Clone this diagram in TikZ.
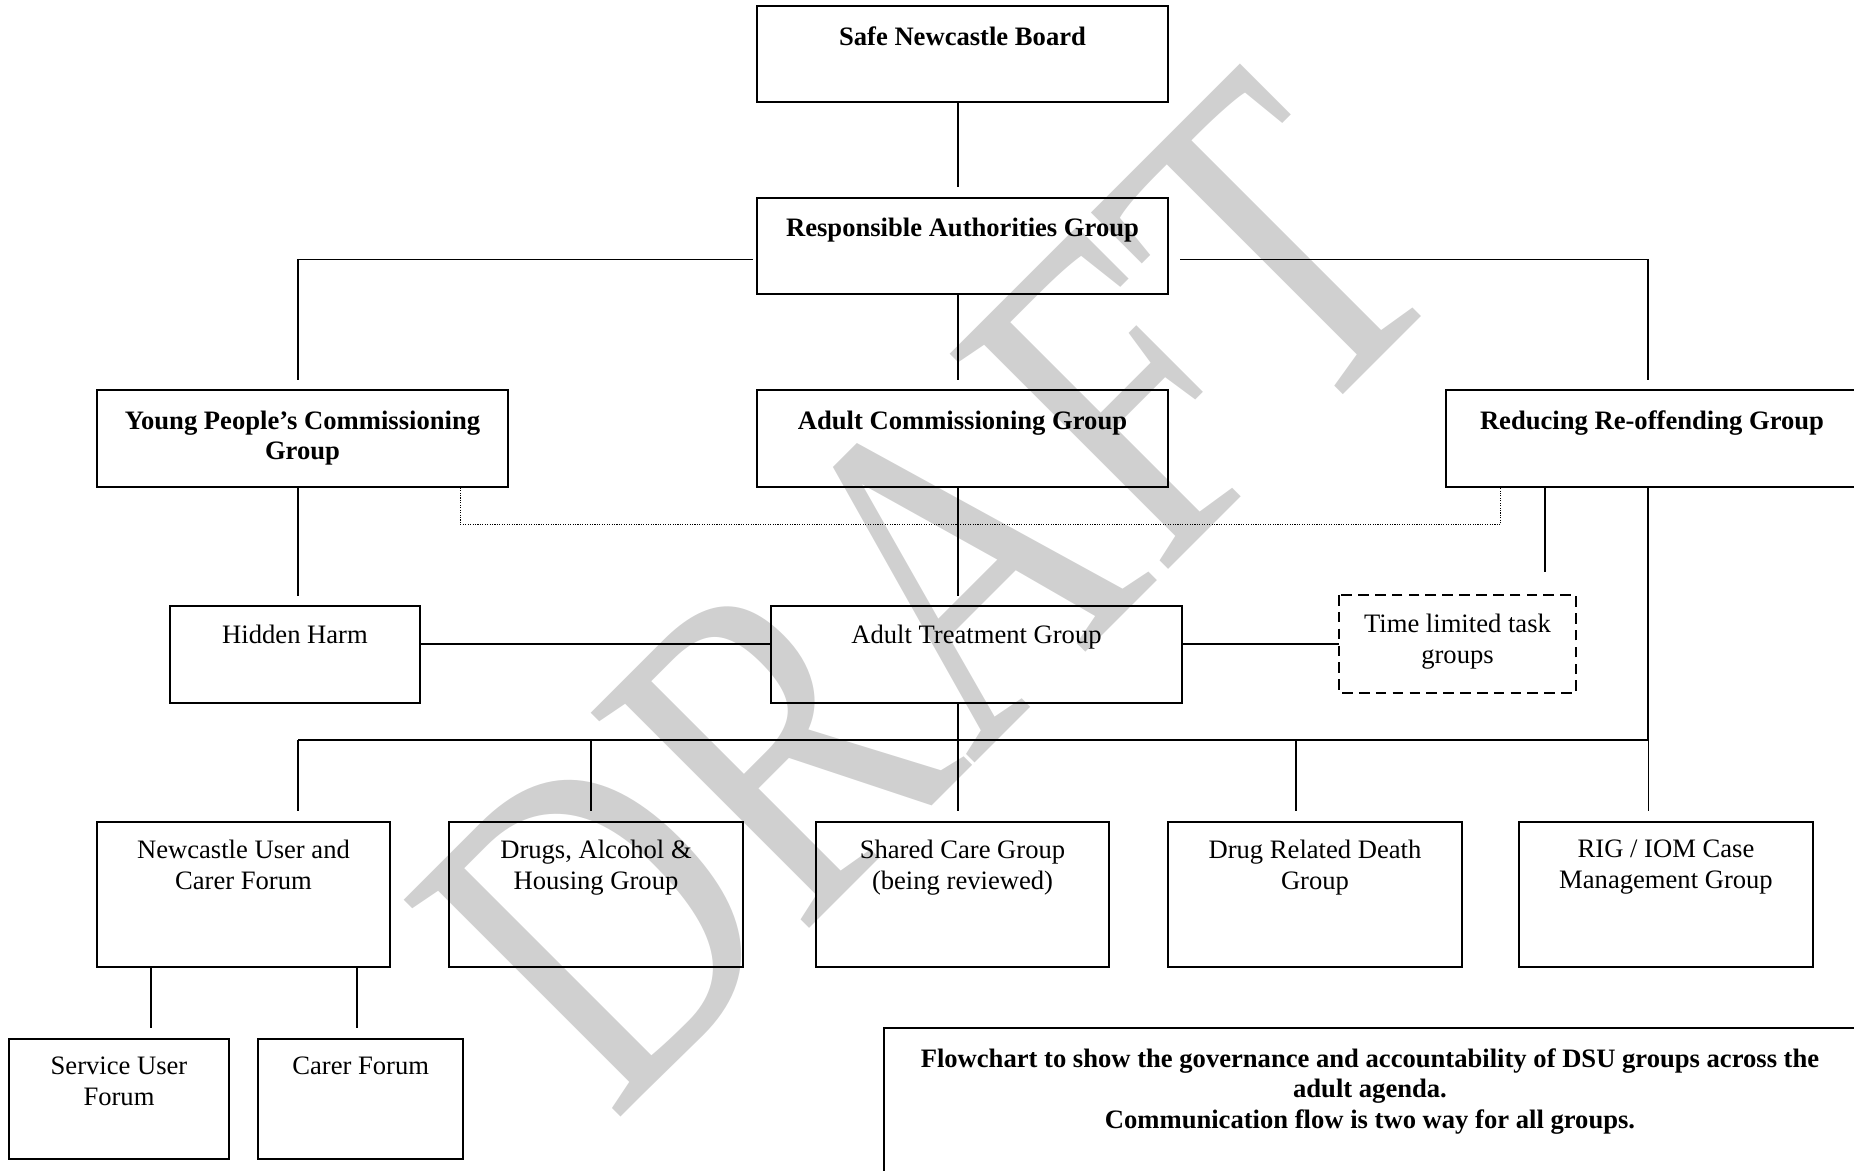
\documentclass[tikz,border=0pt]{standalone}
\usepackage{fontspec}
\setmainfont{Liberation Serif}
\definecolor{wmgray}{RGB}{208,208,208}
\begin{document}
\begin{tikzpicture}[x=0.451pt,y=-0.451pt,
  grp/.style={draw=black, line width=0.9pt, inner sep=0pt},
  grptext/.style={anchor=north, yshift=-8.5pt, inner sep=0pt, align=center, font=\fontsize{12}{13.8}\selectfont},
  boldtext/.style={grptext, yshift=-1pt, font=\fontsize{12}{13.8}\selectfont\bfseries},
  wide/.style={minimum width=185.4pt, minimum height=43.5pt},
  low/.style={minimum width=132.4pt, minimum height=65.4pt},
  link/.style={line width=0.7pt},
  gap/.style={shorten >=4.3pt},
  linkdot/.style={line width=0.5pt, dash pattern=on 0.5pt off 0.6pt},
  linkdash/.style={line width=0.9pt, dash pattern=on 4.8pt off 2.8pt},
  draftmark/.style={anchor=base west, inner sep=0pt, rotate=45, yscale=1.28, text=wmgray, font=\fontsize{165}{165}\selectfont}]
\useasboundingbox (0,0) rectangle (1854,1171);
\clip (0,0) rectangle (1854,1171);
% watermark
\node [draftmark] (draft) at (613,1125) {DRAFT};
% board and groups
\node [grp, wide, label={[name=snbt, boldtext]north:Safe Newcastle Board}] (snb) at (962.5,54) {};
\node [grp, wide, label={[name=ragt, boldtext]north:Responsible Authorities Group}] (rag) at (962.5,246) {};
\node [grp, wide, label={[name=ypct, boldtext]north:{Young People’s Commissioning\\Group}}] (ypc) at (302.5,438.5) {};
\node [grp, wide, label={[name=acgt, boldtext]north:Adult Commissioning Group}] (acg) at (962.5,438.5) {};
\node [grp, wide, label={[name=rrgt, boldtext]north:Reducing Re-offending Group}] (rrg) at (1652,438.5) {};
\node [grp, minimum width=112.7pt, minimum height=43.5pt, label={[name=hht, grptext]north:Hidden Harm}] (hh) at (295,654.5) {};
\node [grp, wide, label={[name=atgt, grptext]north:Adult Treatment Group}] (atg) at (976.5,654.5) {};
\node [grp, draw=none, minimum width=106pt, minimum height=43.3pt, label={[name=tlgt, grptext]north:{Time limited task\\groups}}] (tlg) at (1457.5,644) {};
\draw [linkdash] (tlg.north west) rectangle (tlg.south east);
% sub groups
\node [grp, low, label={[name=nucft, grptext]north:{Newcastle User and\\Carer Forum}}] (nucf) at (243.5,894.5) {};
\node [grp, low, label={[name=daht, grptext]north:{Drugs, Alcohol \&\\Housing Group}}] (dah) at (596,894.5) {};
\node [grp, low, label={[name=scgt, grptext]north:{Shared Care Group\\(being reviewed)}}] (scg) at (962.5,894.5) {};
\node [grp, low, label={[name=drdt, grptext]north:{Drug Related Death\\Group}}] (drd) at (1315,894.5) {};
\node [grp, low, label={[name=rigt, grptext]north:{RIG / IOM Case\\Management Group}}] (rig) at (1666,894.5) {};
\node [grp, minimum width=99.2pt, minimum height=54.1pt, label={[name=suft, grptext]north:{Service User\\Forum}}] (suf) at (119,1099) {};
\node [grp, minimum width=92.5pt, minimum height=54.1pt, label={[name=cft, grptext]north:Carer Forum}] (cf) at (360.75,1099) {};
\node [grp, minimum width=438.4pt, minimum height=91pt, label={[name=notet, boldtext]north:{Flowchart to show the governance and accountability of DSU groups across the\\adult agenda.\\Communication flow is two way for all groups.}}] (note) at (1370,1129) {};
% connectors
\coordinate (lx) at (298,0);
\coordinate (mx) at (958,0);
\coordinate (rx) at (1648,0);
\coordinate (bus) at (0,740);
\draw [link, gap] (snb.south -| mx) -- (rag.north -| mx);
\draw [link, shorten <=1.4pt, gap] ([yshift=-6.1pt]rag.west) -| (ypc.north -| lx);
\draw [link, shorten <=5pt, gap] ([yshift=-6.1pt]rag.east) -| (rrg.north -| rx);
\draw [link, gap] (rag.south -| mx) -- (acg.north -| mx);
\draw [link, gap] (ypc.south -| lx) -- (hh.north -| lx);
\draw [link, gap] (acg.south -| mx) -- (atg.north -| mx);
\draw [linkdot] ([xshift=-22pt]ypc.south east) -- ++(0,36.5) -| ([xshift=25pt]rrg.south west);
\coordinate (tk) at ([xshift=45pt]rrg.south west);
\draw [link, shorten >=10.4pt] (tk) -- (tk |- tlg.north);
\coordinate (hhr) at ([yshift=4.7pt]hh.east);
\draw [link] (hhr) -- (hhr -| atg.west);
\draw [link] (tlg.west -| atg.east) -- (tlg.west);
\draw [link] (rrg.south -| rx) -- (bus -| rx) -- (bus -| lx);
\draw [link] (atg.south -| mx) -- (bus -| mx);
\foreach \b/\dx in {nucf/24.5, dah/-2.2, scg/-2, drd/-8.5, rig/-8} {
  \coordinate (\b-t) at ([xshift=\dx pt]\b.north);
  \draw [link, gap] (\b-t |- bus) -- (\b-t);
}
\coordinate (suf-t) at ([xshift=14.4pt]suf.north);
\draw [link, gap] (suf-t |- nucf.south) -- (suf-t);
\coordinate (cf-t) at ([xshift=-1.7pt]cf.north);
\draw [link, gap] (cf-t |- nucf.south) -- (cf-t);
\end{tikzpicture}
\end{document}
